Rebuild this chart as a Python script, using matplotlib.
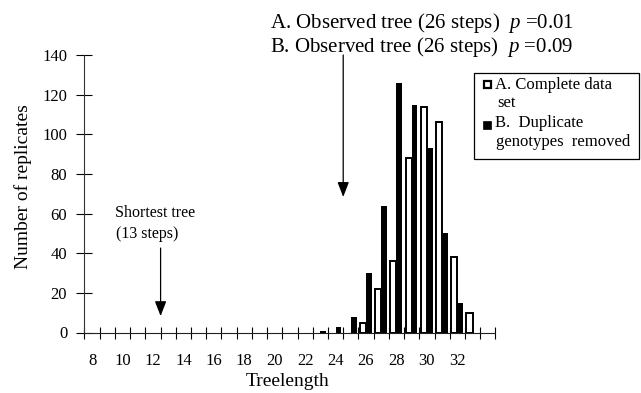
import numpy as np
import matplotlib
matplotlib.use("Agg")
import matplotlib.pyplot as plt
from matplotlib.patches import Rectangle

plt.rcParams['font.family'] = ['Liberation Serif', 'DejaVu Serif']
plt.rcParams['mathtext.fontset'] = 'custom'
plt.rcParams['mathtext.rm'] = 'Liberation Serif'
plt.rcParams['mathtext.it'] = 'Liberation Serif:italic'

# ---- data ----
treelength = list(range(8, 35))
complete_A = [0]*18 + [5, 22, 36, 88, 114, 106, 38, 10, 0]          # 8..34
dupremoved_B = [0]*15 + [1, 3, 8, 30, 64, 126, 115, 93, 50, 15, 0, 0]  # 8..34
xtick_labels = list(range(8, 33, 2))
yticks = list(range(0, 141, 20))

W, H = 641, 393
fig = plt.figure(figsize=(W/100, H/100), dpi=100)

def fx(x): return x / W
def fy(y): return 1 - y / H

x0, x1, y0, y1 = 84.5, 495.4, 332.5, 55
ax = fig.add_axes([fx(x0), fy(y0), (x1-x0)/W, (y0-y1)/H])

cats = np.array(treelength)
A = np.array(complete_A)
B = np.array(dupremoved_B)
ma = A > 0
mb = B > 0
ax.bar(cats[ma] - 0.4, A[ma], width=0.4, align='edge', facecolor='white',
       edgecolor='black', linewidth=1.4, zorder=3)
ax.bar(cats[mb], B[mb], width=0.38, align='edge', color='black', zorder=3)

ax.set_xlim(7.5, 34.5)
ax.set_ylim(0, 140)
for s in ['top', 'right']:
    ax.spines[s].set_visible(False)
ax.spines['left'].set_color('#333333')
ax.spines['bottom'].set_color('#222222')

ax.set_xticks(xtick_labels)
ax.set_xticklabels([str(v) for v in xtick_labels])
ax.set_xticks(np.arange(7.5, 34.6, 1.0), minor=True)
ax.tick_params(axis='x', which='major', length=0, pad=15, labelsize=12)
ax.tick_params(axis='x', which='minor', direction='inout', length=8, width=0.8)
ax.set_yticks(yticks)
ax.tick_params(axis='y', which='major', direction='inout', length=11, width=0.8,
               pad=7, labelsize=12)

fig.text(fx(287.5), fy(382), 'Treelength', ha='center', va='center', fontsize=14)
fig.text(fx(23), fy(187), 'Number of replicates', ha='center', va='center',
         rotation=90, fontsize=14)

# arrows
ax.annotate('', xy=(24.5, 68.4), xytext=(24.5, 140),
            arrowprops=dict(arrowstyle='-|>,head_length=0.9,head_width=0.35',
                            color='black', lw=0.9, shrinkA=0, shrinkB=0),
            annotation_clip=False)
ax.annotate('', xy=(12.5, 8.3), xytext=(12.5, 42.6),
            arrowprops=dict(arrowstyle='-|>,head_length=0.9,head_width=0.35',
                            color='black', lw=0.9, shrinkA=0, shrinkB=0),
            annotation_clip=False)

fig.text(fx(270), fy(28), r'A. Observed tree (26 steps)  $\mathit{p}$ =0.01',
         ha='left', va='baseline', fontsize=15)
fig.text(fx(270), fy(52), r'B. Observed tree (26 steps)  $\mathit{p}$ =0.09',
         ha='left', va='baseline', fontsize=15)

fig.text(fx(115), fy(217), 'Shortest tree', ha='left', va='baseline', fontsize=11.5)
fig.text(fx(116), fy(238), '(13 steps)', ha='left', va='baseline', fontsize=11.5)

# legend box
fig.patches.append(Rectangle((fx(474), fy(158.5)), (639 - 474)/W, (158.5 - 72.7)/H,
                             transform=fig.transFigure, facecolor='white',
                             edgecolor='black', linewidth=0.9))
fig.patches.append(Rectangle((fx(483.5), fy(88)), 7/W, 7/H, transform=fig.transFigure,
                             facecolor='white', edgecolor='black', linewidth=1.6))
fig.patches.append(Rectangle((fx(483), fy(128.5)), 8/W, 8/H, transform=fig.transFigure,
                             facecolor='black', edgecolor='black', linewidth=0.5))
fig.text(fx(495), fy(89), 'A. Complete data', ha='left', va='baseline', fontsize=12)
fig.text(fx(497), fy(107), 'set', ha='left', va='baseline', fontsize=12)
fig.text(fx(495), fy(127), 'B.  Duplicate', ha='left', va='baseline', fontsize=12)
fig.text(fx(496), fy(145.5), 'genotypes  removed', ha='left', va='baseline', fontsize=12)

fig.savefig('out.png', dpi=100)
